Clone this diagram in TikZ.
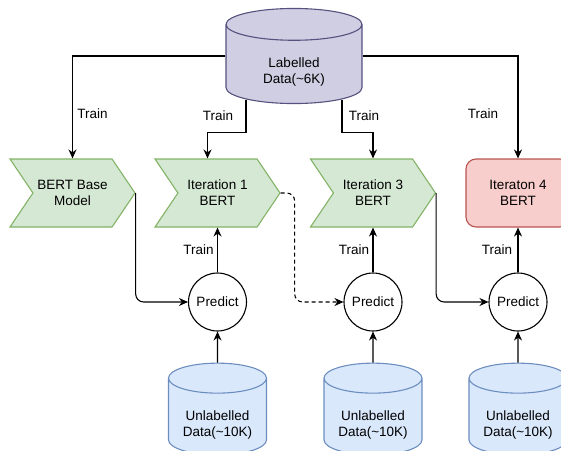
\documentclass[tikz,border=0pt]{standalone}
\usepackage{fontspec}
\setmainfont{Liberation Sans}
\usetikzlibrary{positioning,shapes.geometric,shapes.symbols,arrows.meta}

\definecolor{labfill}{HTML}{D0CEE2}
\definecolor{labline}{HTML}{56517E}
\definecolor{stepfill}{HTML}{D5E8D4}
\definecolor{stepline}{HTML}{82B366}
\definecolor{lastfill}{HTML}{F8CECC}
\definecolor{lastline}{HTML}{B85450}
\definecolor{poolfill}{HTML}{DAE8FC}
\definecolor{poolline}{HTML}{6C8EBF}

\begin{document}
\begin{tikzpicture}[x=1pt,y=-1pt,line width=1.1pt,font=\fontsize{13.5}{16}\selectfont]
  \tikzset{
  db/.style={
    cylinder,
    shape border rotate=90,
    anchor=shape center,
    inner sep=30pt,
    aspect=0.53,
    draw=labline,
    fill=labfill,
    minimum width=136pt,
    minimum height=86pt,
    label={[align=center,inner sep=2pt,anchor=center,yshift=-16pt]shape center:#1}
  },
  pool/.style={
    db={#1},
    draw=poolline,
    fill=poolfill,
    aspect=0.5,
    minimum width=98pt
  },
  bertstep/.style={
    signal,
    signal to=east,
    signal from=west,
    signal pointer angle=112,
    draw=stepline,
    fill=stepfill,
    align=center,
    inner sep=0pt,
    minimum width=125pt,
    minimum height=68pt
  },
  lastbox/.style={
    rectangle,
    rounded corners=10pt,
    draw=lastline,
    fill=lastfill,
    align=center,
    minimum width=104pt,
    minimum height=68pt
  },
  predict/.style={
    circle,
    draw=black,
    inner sep=0pt,
    minimum size=58pt
  },
  arr/.style={
    -{Stealth[length=9pt,width=8pt]}
  }
}
\useasboundingbox (0,0) rectangle (561,450);
\clip (0,0) rectangle (561,450);

\node[db={Labelled\\Data(\textasciitilde 6K)}] at (294,56) (labelled) {};

\node[bertstep] at (72.5,193) (base) {BERT Base\\Model};
\node[bertstep] at (217.5,193) (iter1) {Iteration 1\\BERT};
\node[bertstep] at (373,193) (iter3) {Iteration 3\\BERT};
\node[lastbox] at (518,193) (iter4) {Iteraton 4\\BERT};

\node[predict] at (217.5,302) (pred1) {Predict};
\node[predict] at (373,302) (pred3) {Predict};
\node[predict] at (518,302) (pred4) {Predict};

\node[pool={Unlabelled\\Data(\textasciitilde 10K)}] at (217.5,409) (pool1) {};
\node[pool={Unlabelled\\Data(\textasciitilde 10K)}] at (373,409) (pool3) {};
\node[pool={Unlabelled\\Data(\textasciitilde 10K)}] at (518,409) (pool4) {};

  \draw[arr] (labelled.shape center -| labelled.west) -| node[pos=.78,right=1pt] {Train} (base.north);
  \draw[arr] (labelled.shape center -| labelled.east) -| node[pos=.78,left=16pt] {Train} (iter4.north);
  \draw[arr] ([xshift=-48pt,yshift=4pt]labelled.south) -- node[left=9pt] {Train} ++(0,32) -| ([xshift=-10pt]iter1.north);
  \draw[arr] ([xshift=48pt,yshift=4pt]labelled.south) -- node[right=3pt] {Train} ++(0,32) -| (iter3.north);

  \draw[arr] (pred1) -- node[left] {Train} (iter1);
  \draw[arr] (pred3) -- node[left] {Train} (iter3);
  \draw[arr] (pred4) -- node[left=2pt] {Train} (iter4);

  \draw[arr,rounded corners=8pt] (base.east) |- (pred1.west);
  \draw[arr,rounded corners=8pt,dash pattern=on 4pt off 3pt] (iter1.east) -- ++(14,0) |- (pred3.west);
  \draw[arr,rounded corners=8pt] (iter3.east) |- (pred4.west);

  \draw[arr] (pool1.north) -- (pred1.south);
  \draw[arr] (pool3.north) -- (pred3.south);
  \draw[arr] (pool4.north) -- (pred4.south);
\end{tikzpicture}
\end{document}
